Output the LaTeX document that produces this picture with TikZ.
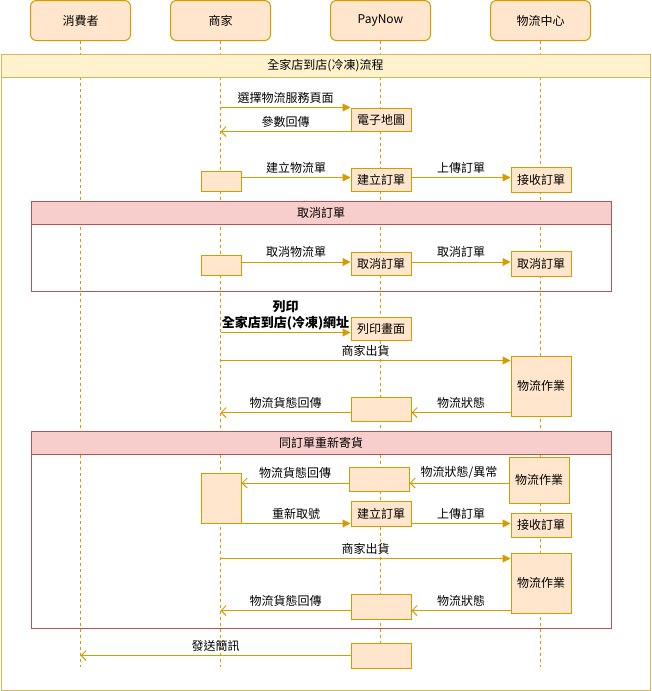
\documentclass[tikz,border=0pt]{standalone}
\usepackage{fontspec}
\setmainfont{Noto Sans CJK TC}
\usetikzlibrary{arrows.meta}
\definecolor{ostroke}{HTML}{D79B00}
\definecolor{ofill}{HTML}{FFE6CC}
\definecolor{ystroke}{HTML}{D6B656}
\definecolor{yfill}{HTML}{FFF2CC}
\definecolor{rstroke}{HTML}{B85450}
\definecolor{rfill}{HTML}{F8CECC}
\begin{document}
\begin{tikzpicture}[x=1pt,y=-1pt,
  font=\fontsize{12}{14}\selectfont,
  hdr/.style={draw=ostroke, fill=ofill, line width=1pt, rounded corners=6pt,
    minimum width=100pt, minimum height=40pt, inner sep=0pt},
  box/.style={draw=ostroke, fill=ofill, line width=1pt, inner sep=0pt, anchor=north west},
  life/.style={draw=ostroke, line width=1pt, dash pattern=on 3pt off 3pt},
  frame/.style={draw=#1, line width=1pt, inner sep=0pt, anchor=north west},
  band/.style={draw=#1, line width=1pt, inner sep=0pt, anchor=north west, minimum height=23pt},
  msg/.style={draw=ostroke, line width=1pt, -{Triangle[length=8pt,width=8pt]}},
  ret/.style={draw=ostroke, line width=1pt, -{Straight Barb[length=5pt,width=10pt]}},
  lbl/.style={midway, yshift=10pt, inner sep=0pt, text=black}
]
\useasboundingbox (0,0) rectangle (651,691);

% lifeline headers
\node[hdr] (h1) at (80.5,20.5) {消費者};
\node[hdr] (h2) at (220.5,20.5) {商家};
\node[hdr] (h3) at (380.5,20.5) {PayNow};
\node[hdr] (h4) at (540.5,20.5) {物流中心};
\coordinate (e1) at (80.5,667);
\coordinate (e2) at (220.5,667);
\coordinate (e3) at (380.5,667);
\coordinate (e4) at (540.5,667);
\draw[life] (h1.south) -- (e1);
\draw[life] (h2.south) -- (e2);
\draw[life] (h3.south) -- (e3);
\draw[life] (h4.south) -- (e4);

% frames
\node[frame=ystroke, minimum width=649pt, minimum height=636pt] (outer) at (0.5,53.5) {};
\node[band=ystroke, fill=yfill, minimum width=649pt] (outerh) at (0.5,53.5) {全家店到店(冷凍)流程};
\node[frame=rstroke, minimum width=580pt, minimum height=90pt] (fc) at (30.5,200.5) {};
\node[band=rstroke, fill=rfill, minimum width=580pt] (fch) at (30.5,200.5) {取消訂單};
\node[frame=rstroke, minimum width=580pt, minimum height=197pt] (fr) at (30.5,430.5) {};
\node[band=rstroke, fill=rfill, minimum width=580pt] (frh) at (30.5,430.5) {同訂單重新寄貨};

% section 1
\node[box, minimum width=60pt, minimum height=23pt] (ditu) at (350.5,107.5) {電子地圖};
\draw[msg] (h2 |- ditu.north west) -- node[lbl]{選擇物流服務頁面} (ditu.north west);
\draw[ret] (ditu.south west) -- node[lbl]{參數回傳} (h2 |- ditu.south west);

\coordinate (yA) at (0,177.5);
\node[box, minimum width=40pt, minimum height=20pt] (mA) at (200.5,170.5) {};
\node[box, minimum width=60pt, minimum height=23pt] (cre1) at (350.5,167.5) {建立訂單};
\node[box, minimum width=60pt, minimum height=25pt] (rec1) at (510.5,166.5) {接收訂單};
\draw[msg] (mA.east |- yA) -- node[lbl]{建立物流單} (cre1.west |- yA);
\draw[msg] (cre1.east |- yA) -- node[lbl]{上傳訂單} (rec1.west |- yA);

% cancel section
\coordinate (yB) at (0,262);
\node[box, minimum width=40pt, minimum height=20pt] (mB) at (200.5,254.5) {};
\node[box, minimum width=60pt, minimum height=23pt] (can1) at (350.5,251.5) {取消訂單};
\node[box, minimum width=60pt, minimum height=25pt] (can2) at (510.5,250.5) {取消訂單};
\draw[msg] (mB.east |- yB) -- node[lbl]{取消物流單} (can1.west |- yB);
\draw[msg] (can1.east |- yB) -- node[lbl]{取消訂單} (can2.west |- yB);

% print
\coordinate (yP) at (0,332.5);
\node[box, minimum width=60pt, minimum height=23pt] (prt) at (350.5,316.5) {列印畫面};
\draw[msg] (h2 |- yP) -- node[lbl, yshift=7.5pt, align=center, font=\fontsize{13}{16}\selectfont\bfseries]{列印\\全家店到店(冷凍)網址} (prt.west |- yP);

% ship 1
\coordinate (yS1) at (0,360.5);
\coordinate (yR1) at (0,412.5);
\node[box, minimum width=60pt, minimum height=60pt] (ops1) at (510.5,355.5) {物流作業};
\node[box, minimum width=60pt, minimum height=24pt] (emp1) at (350.5,396.5) {};
\draw[msg] (h2 |- yS1) -- node[lbl]{商家出貨} (ops1.west |- yS1);
\draw[ret] (ops1.west |- yR1) -- node[lbl]{物流狀態} (emp1.east |- yR1);
\draw[ret] (emp1.west |- yR1) -- node[lbl]{物流貨態回傳} (h2 |- yR1);

% resend section
\coordinate (yR2) at (0,483);
\node[box, minimum width=60pt, minimum height=46pt] (ops2) at (508.5,456.5) {物流作業};
\node[box, minimum width=60pt, minimum height=24pt] (emp2) at (348.5,466.5) {};
\node[box, minimum width=40pt, minimum height=50pt] (tall) at (200.5,472.5) {};
\draw[ret] (ops2.west |- yR2) -- node[lbl]{物流狀態/異常} (emp2.east |- yR2);
\draw[ret] (emp2.west |- yR2) -- node[lbl]{物流貨態回傳} (tall.east |- yR2);
\node[box, minimum width=60pt, minimum height=25pt] (cre2) at (350.5,500.5) {建立訂單};
\node[box, minimum width=60pt, minimum height=24pt] (rec2) at (510.5,512.5) {接收訂單};
\draw[msg] (tall.south east) -- node[lbl]{重新取號} (cre2.west |- tall.south east);
\draw[msg] (cre2.east |- tall.south east) -- node[lbl]{上傳訂單} (rec2.west |- tall.south east);

\coordinate (yS2) at (0,558.5);
\coordinate (yR3) at (0,610.5);
\node[box, minimum width=60pt, minimum height=60pt] (ops3) at (510.5,552.5) {物流作業};
\node[box, minimum width=60pt, minimum height=25pt] (emp3) at (350.5,593.5) {};
\draw[msg] (h2 |- yS2) -- node[lbl]{商家出貨} (ops3.west |- yS2);
\draw[ret] (ops3.west |- yR3) -- node[lbl]{物流狀態} (emp3.east |- yR3);
\draw[ret] (emp3.west |- yR3) -- node[lbl]{物流貨態回傳} (h2 |- yR3);

% sms
\node[box, minimum width=60pt, minimum height=25pt] (emp4) at (350.5,642.5) {};
\draw[ret] (emp4.west) -- node[lbl]{發送簡訊} (h1 |- emp4.west);
\end{tikzpicture}
\end{document}
